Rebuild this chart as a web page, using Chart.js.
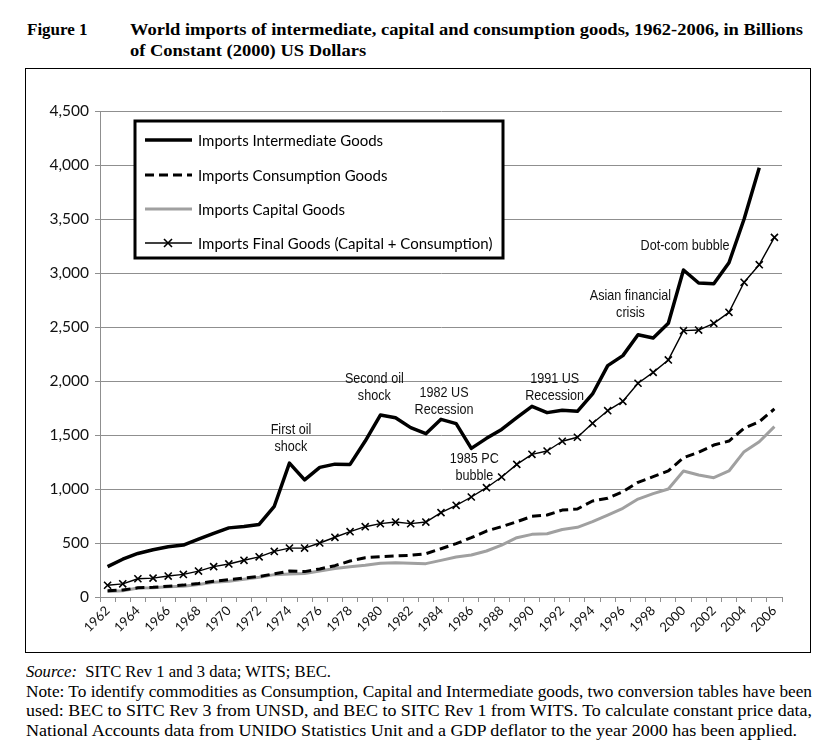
<!DOCTYPE html>
<html>
<head>
<meta charset="utf-8">
<script src="https://cdn.jsdelivr.net/npm/chart.js@4.4.1/dist/chart.umd.min.js"></script>
<style>
  html, body { margin: 0; padding: 0; background: #fff; }
  body { width: 832px; height: 746px; position: relative; overflow: hidden; }
  .serif { font-family: 'Liberation Serif', 'Times New Roman', serif; color: #000; }
  #fig { position: absolute; left: 27px; top: 19px; font-weight: bold; font-size: 17px; line-height: 21px; white-space: nowrap; }
  #title { position: absolute; left: 130px; top: 19px; font-weight: bold; font-size: 17px; line-height: 21px; }
  #title div { white-space: nowrap; transform-origin: 0 0; width: max-content; }
  #box { position: absolute; left: 25px; top: 68px; width: 786px; height: 585px; border: 1.5px solid #000; box-sizing: border-box; }
  #wrap { position: absolute; left: 26px; top: 69px; width: 784px; height: 583px; }
  #notes { position: absolute; left: 26px; top: 662px; width: 786px; font-size: 16px; line-height: 19.5px; }
  #notes div { white-space: nowrap; transform-origin: 0 0; width: max-content; }
</style>
</head>
<body>
<div id="fig" class="serif">Figure 1</div>
<div id="title" class="serif">
  <div id="t1">World imports of intermediate, capital and consumption goods, 1962-2006, in Billions</div>
  <div id="t2">of Constant (2000) US Dollars</div>
</div>
<div id="box"></div>
<div id="wrap"><canvas id="c" width="784" height="583"></canvas></div>
<div id="notes" class="serif">
  <div id="n0"><i>Source:</i>&nbsp; SITC Rev 1 and 3 data; WITS; BEC.</div>
  <div id="n1" class="fit">Note: To identify commodities as Consumption, Capital and Intermediate goods, two conversion tables have been</div>
  <div id="n2" class="fit">used: BEC to SITC Rev 3 from UNSD, and BEC to SITC Rev 1 from WITS. To calculate constant price data,</div>
  <div id="n3">National Accounts data from UNIDO Statistics Unit and a GDP deflator to the year 2000 has been applied.</div>
</div>
<script>
// ---- data ----
const years = ['1962','1963','1964','1965','1966','1967','1968','1969','1970','1971',
  '1972','1973','1974','1975','1976','1977','1978','1979','1980','1981',
  '1982','1983','1984','1985','1986','1987','1988','1989','1990','1991',
  '1992','1993','1994','1995','1996','1997','1998','1999','2000','2001',
  '2002','2003','2004','2005','2006'];

const intermediateGoods = [281,350,403,437,465,481,537,590,640,653,
  672,840,1240,1084,1200,1230,1228,1444,1685,1660,
  1568,1512,1645,1605,1376,1469,1552,1660,1765,1707,
  1730,1719,1880,2142,2235,2429,2398,2534,3028,2907,
  2901,3095,3500,3975,null];

const consumptionGoods = [57,65,85,90,100,110,125,145,160,175,
  190,215,240,235,260,290,333,364,373,380,
  386,401,447,494,549,611,651,697,747,759,
  805,815,889,914,975,1062,1114,1167,1290,1340,
  1407,1444,1562,1623,1741];

const capitalGoods = [52,57,84,85,94,99,115,136,146,165,
  182,207,213,218,240,263,281,293,312,318,
  312,309,339,370,389,426,481,549,580,586,
  625,645,698,759,821,907,957,1000,1167,1130,
  1105,1167,1346,1438,1577];

const finalGoods = [109,122,169,175,194,209,240,281,306,340,
  372,422,453,453,500,553,605,651,679,694,
  679,694,781,849,926,1012,1111,1228,1321,1352,
  1442,1479,1608,1725,1812,1979,2080,2195,2466,2472,
  2534,2636,2914,3077,3330];

const seriesNames = ['Imports Intermediate Goods','Imports Consumption Goods','Imports Capital Goods','Imports Final Goods (Capital + Consumption)'];

const yTicks = [0,500,1000,1500,2000,2500,3000,3500,4000,4500];

const eventLabels = [['First oil','shock'],['Second oil','shock'],['1982 US','Recession'],['1985 PC','bubble'],['1991 US','Recession'],['Asian financial','crisis'],['Dot-com bubble']];
const eventYears = [1974.1, 1979.6, 1984.2, 1986.2, 1991.5, 1996.5, 2000.1];
const eventValues = [1546, 2019, 1889, 1278, 2019, 2787, 3250];

// ---- styles ----
const GRID = '#8f8f8f';
const SANS = "Lato, 'Liberation Sans', sans-serif";
const NARROW = "'Liberation Sans', Arial, sans-serif";

const styles = [
  { borderColor: '#000', borderWidth: 3.5, borderDash: [], pointRadius: 0 },
  { borderColor: '#000', borderWidth: 3, borderDash: [9, 5], pointRadius: 0 },
  { borderColor: '#a0a0a0', borderWidth: 3, borderDash: [], pointRadius: 0 },
  { borderColor: '#000', borderWidth: 1.4, borderDash: [], pointRadius: 5, pointStyle: 'crossRot', pointBorderWidth: 1.6, pointBorderColor: '#000' }
];
const seriesData = [intermediateGoods, consumptionGoods, capitalGoods, finalGoods];

const datasets = seriesData.map((d, i) => Object.assign({
  label: seriesNames[i], data: d, tension: 0, fill: false, spanGaps: false,
  borderCapStyle: 'butt', borderJoinStyle: 'round', pointHoverRadius: 5
}, styles[i]));

// ---- legend plugin (drawn inside the plot) ----
const legendBox = {
  id: 'legendBox',
  afterDraw(chart) {
    const ctx = chart.ctx;
    ctx.save();
    const L = 109, T = 52, R = 477, B = 189;
    ctx.fillStyle = '#fff';
    ctx.fillRect(L, T, R - L, B - T);
    ctx.lineWidth = 3;
    ctx.strokeStyle = '#000';
    ctx.strokeRect(L, T, R - L, B - T);
    const rows = [71, 106, 140, 174];
    rows.forEach((y, i) => {
      const s = styles[i];
      ctx.beginPath();
      ctx.setLineDash(s.borderDash || []);
      ctx.lineWidth = s.borderWidth;
      ctx.strokeStyle = s.borderColor;
      ctx.moveTo(119, y); ctx.lineTo(166, y);
      ctx.stroke();
      ctx.setLineDash([]);
      if (s.pointStyle) {
        ctx.lineWidth = 1.6;
        const r = 4;
        ctx.beginPath();
        ctx.moveTo(142 - r, y - r); ctx.lineTo(142 + r, y + r);
        ctx.moveTo(142 - r, y + r); ctx.lineTo(142 + r, y - r);
        ctx.stroke();
      }
      ctx.fillStyle = '#000';
      ctx.font = '15px ' + SANS;
      ctx.textBaseline = 'middle';
      ctx.textAlign = 'left';
      ctx.fillText(seriesNames[i], 172, y + 1);
    });
    ctx.restore();
  }
};

// ---- event annotations plugin ----
const events = {
  id: 'events',
  afterDatasetsDraw(chart) {
    const ctx = chart.ctx, xs = chart.scales.x, ys = chart.scales.y;
    eventLabels.forEach((lines, i) => {
      const x = xs.getPixelForValue(eventYears[i] - 1962);
      const y0 = ys.getPixelForValue(eventValues[i]);
      ctx.save();
      ctx.translate(x, y0);
      ctx.scale(0.84, 1);
      ctx.fillStyle = '#111';
      ctx.font = '15px ' + NARROW;
      ctx.textAlign = 'center';
      ctx.textBaseline = 'middle';
      lines.forEach((t, k) => ctx.fillText(t, 0, k * 16.5));
      ctx.restore();
    });
  }
};

new Chart(document.getElementById('c'), {
  type: 'line',
  data: { labels: years, datasets },
  options: {
    responsive: false,
    animation: false,
    events: [],
    layout: { padding: { top: 42, right: 28, left: 0, bottom: 0 } },
    plugins: { legend: { display: false }, tooltip: { enabled: false }, title: { display: false } },
    scales: {
      x: {
        type: 'category',
        offset: true,
        afterFit(s) { s.height = 55; },
        grid: { drawOnChartArea: false, drawTicks: true, tickLength: 5, offset: true, color: GRID, lineWidth: 1 },
        border: { color: GRID, width: 1 },
        ticks: {
          autoSkip: false, maxRotation: 45, minRotation: 45, padding: 1,
          color: '#111', font: { family: SANS, size: 13 },
          callback(v, i) { return i % 2 === 0 ? years[i] : ''; }
        }
      },
      y: {
        min: 0, max: 4500,
        afterFit(s) { s.width = 74; },
        afterBuildTicks(s) { s.ticks = yTicks.map(v => ({ value: v })); },
        grid: { color: GRID, lineWidth: 1, tickLength: 5, drawTicks: true },
        border: { color: GRID, width: 1 },
        ticks: {
          padding: 6, color: '#111', font: { family: SANS, size: 15.5 },
          callback(v) { return Number(v).toLocaleString('en-US'); }
        }
      }
    }
  },
  plugins: [legendBox, events]
});

// fit title and note lines to reference widths
(function () {
  const t1 = document.getElementById('t1');
  const k = 673 / t1.getBoundingClientRect().width;
  t1.style.transform = 'scaleX(' + k + ')';
  document.getElementById('t2').style.transform = 'scaleX(' + k + ')';
  document.querySelectorAll('#notes .fit').forEach(el => {
    const kk = 786 / el.getBoundingClientRect().width;
    el.style.transform = 'scaleX(' + kk + ')';
  });
  const n3 = document.getElementById('n3');
  n3.style.transform = 'scaleX(' + (771 / n3.getBoundingClientRect().width) + ')';
  const n0 = document.getElementById('n0');
  n0.style.transform = 'scaleX(' + (305 / n0.getBoundingClientRect().width) + ')';
})();
</script>
</body>
</html>
